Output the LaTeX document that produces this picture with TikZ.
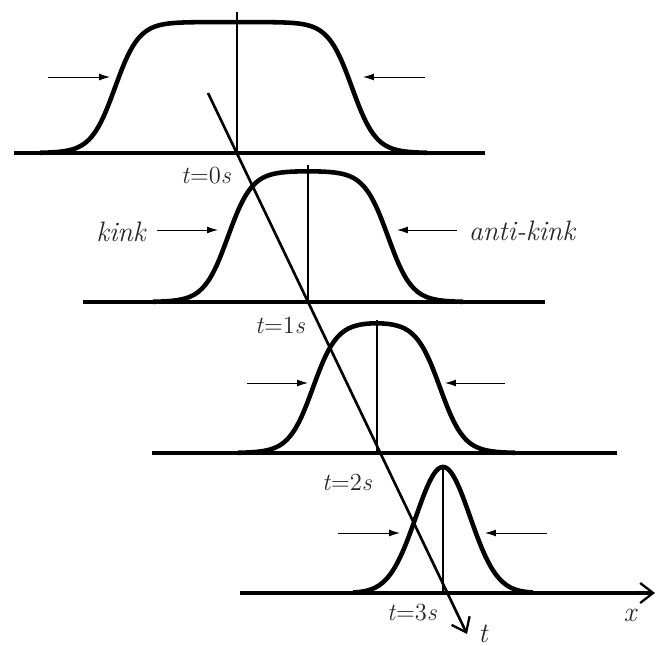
\documentclass[tikz,border=0pt]{standalone}
\usetikzlibrary{arrows.meta}

\begin{document}
\begin{tikzpicture}[x=0.02cm, y=0.02cm,
	declare function={sg(\u)=tanh(max(-4,min(4,\u)));},
	profile/.style={line width=2.6pt, line join=round},
	base/.style={line width=2pt},
	pin/.style={line width=0.5pt, -{Latex[length=2.2mm,width=1.4mm]}},
	axis/.style={line width=1.5pt, -{Straight Barb[length=2.6mm,width=4mm,line width=1.3pt]}},
	kinktext/.style={text=black!85, font=\fontsize{16}{16}\selectfont\itshape},
	timetext/.style={text=black!85, font=\fontsize{14}{14}\selectfont}]
	\useasboundingbox (0,0) rectangle (657,646);
	\foreach \Yb/\xl/\xr/\ka/\kb/\xv/\Yt/\Ya/\la/\lb/\ra/\rb in
		{493/14/485/115/352/237/634/569/48/110/425/363,
		 344/83/545/228/388/308/481/416/157/218/457/397,
		 193/152/617/313/440/377/326/263/247/308/505/445} {
		\draw[base] (\xl,\Yb) -- (\xr,\Yb);
		\draw[profile, domain=\ka-75:\kb+75, samples=160] plot (\x, {\Yb+65.5*(sg((\x-\ka)/24)-sg((\x-\kb)/24))});
		\draw[line width=1.4pt] (\xv,\Yt) -- (\xv,\Yb);
		\draw[pin] (\la,\Ya) -- (\lb,\Ya);
		\draw[pin] (\ra,\Ya) -- (\rb,\Ya);
	}
	\coordinate (xstart) at (240,53);
	\coordinate (xend) at (655,53);
	\draw[axis, line width=2pt] (xstart) -- (xend);
	\draw[profile, domain=353:533, samples=120] plot (\x, {53+126*exp(-((\x-443)/27)^2/2)});
	\draw[line width=1.4pt] (443,179) -- (443,53);
	\draw[pin] (338,113) -- (400,113);
	\draw[pin] (547,113) -- (485,113);
	\coordinate (tstart) at (208,553);
	\coordinate (tend) at (467,12);
	\draw[axis] (tstart) -- (tend);
	\node[kinktext] (kink) at (121,414) {kink};
	\node[kinktext] (antikink) at (522,415) {anti-kink};
	\foreach \n/\px/\py in {0/206/470, 1/280/321, 2/347/164, 3/412/33}
		\node[timetext] (t\n) at (\px,\py) {\textit{t}=\n\textit{s}};
	\node[kinktext] (tname) at (483,12) {t};
	\node[kinktext] (xname) at (630,31) {x};
\end{tikzpicture}
\end{document}
